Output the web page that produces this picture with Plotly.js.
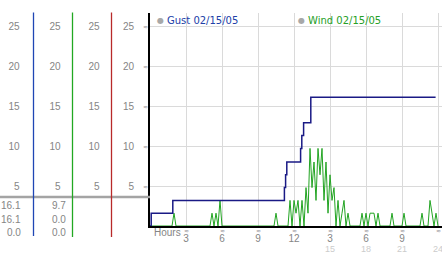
<!DOCTYPE html>
<html><head><meta charset="utf-8">
<script src="https://cdn.plot.ly/plotly-3.0.1.min.js"></script>
<style>html,body{margin:0;padding:0;background:#fff;overflow:hidden}#chart{width:442px;height:253px}</style>
</head><body><div id="chart"></div>
<script>
// ---- data ----
const gustHours  = [0, 0.1, 1.9, 11.2, 11.3, 11.4, 12.55, 12.65, 12.8, 13.4, 23.8];
const gustValues = [0, 1.6, 3.2, 4.8, 6.4, 8.0, 9.7, 11.3, 12.9, 16.1, 16.1];
const windStartHour = 0;
const windStepHours = 1 / 6;   // one reading every 10 minutes
const windValues = [
  0,0,0,0,0,0,0,0,0,0,
  0,0,1.6,0,0,0,0,0,0,0,
  0,0,0,0,0,0,0,0,0,0,
  0,1.6,0,1.6,0,3.2,0,0,0,0,
  0,0,0,0,0,0,0,0,0,0,
  0,0,0,0,0,0,0,0,0,0,
  0,0,0,1.6,0,0,0,0,0,0,
  3.2,0,3.2,1.6,3.2,0,3.2,0,4.8,1.6,
  9.7,4.8,8.0,3.2,9.7,6.4,9.7,3.2,8.0,1.6,
  6.4,3.2,4.8,0,3.2,0,1.6,3.2,0,1.6,
  0,0,0,0,0,0,1.6,0,1.6,0,
  1.6,1.6,1.6,0,1.6,0,0,0,0,0,
  0,1.6,0,0,0,0,0,1.6,0,0,
  0,0,0,0,0,0,1.6,0,0,0,
  3.2,1.6,0,1.6,0
];
const seriesNames = ['Gust 02/15/05', 'Wind 02/15/05'];
const yTickValues = [5, 10, 15, 20, 25];
const xTickValues = [3, 6, 9, 12, 15, 18, 21, 24];
const xTickLabels = ['3', '6', '9', '12', '3', '6', '9', '12'];
const xTick24Values = [15, 18, 21, 24];
const xTick24Labels = ['15', '18', '21', '24'];
const xAxisLabel = 'Hours';
const gustStats = [16.1, 16.1, 0.0];
const windStats = [9.7, 0.0, 0.0];

// ---- styles ----
const W = 442, H = 253;
const plotLeft = 150, plotTop = 13, plotBottom = 226;
const plotH = plotBottom - plotTop;
const yRange = [0, plotH / 8];
const xRange = [0, (W - plotLeft) / 12];
const gustColor = '#1a1a85', windColor = '#22a422';
const numFont = {family: 'Liberation Sans, Arial, sans-serif', size: 10, color: '#858585'};
const wordFont = {family: 'Liberation Sans, Arial, sans-serif', size: 10, color: '#858585'};
const py = p => (plotBottom - p) / plotH;   // pixel row -> paper y
const px = p => p / W;                      // pixel column -> paper x

const data = [
  {type: 'scatter', mode: 'lines', x0: windStartHour, dx: windStepHours, y: windValues,
   name: seriesNames[1], line: {color: windColor, width: 1}, hoverinfo: 'skip'},
  {type: 'scatter', mode: 'lines', x: gustHours, y: gustValues, name: seriesNames[0],
   line: {color: gustColor, width: 1.5, shape: 'hv'}, hoverinfo: 'skip'},
  {type: 'scatter', x: [], y: [], yaxis: 'y2', showlegend: false},
  {type: 'scatter', x: [], y: [], yaxis: 'y3', showlegend: false},
  {type: 'scatter', x: [], y: [], yaxis: 'y4', showlegend: false}
];

const sideAxis = (pos, standoff) => ({
  overlaying: 'y', anchor: 'free', position: px(pos), side: 'left',
  range: yRange, tickvals: yTickValues, showgrid: false, zeroline: false,
  showline: false, ticks: '', ticklabelstandoff: standoff, tickfont: numFont, fixedrange: true
});

const shapes = [
  {type: 'line', xref: 'paper', yref: 'paper', x0: 0, x1: px(plotLeft), y0: py(197), y1: py(197),
   line: {color: '#a4a4a4', width: 2.5}, layer: 'above'},
  {type: 'line', xref: 'paper', yref: 'paper', x0: px(33.5), x1: px(33.5), y0: py(236), y1: py(12.5),
   line: {color: '#1f46b4', width: 1.3}, layer: 'above'},
  {type: 'line', xref: 'paper', yref: 'paper', x0: px(72.5), x1: px(72.5), y0: py(237), y1: py(12.5),
   line: {color: '#22a822', width: 1.3}, layer: 'above'},
  {type: 'line', xref: 'paper', yref: 'paper', x0: px(111.5), x1: px(111.5), y0: py(237), y1: py(12.5),
   line: {color: '#b82a2a', width: 1.3}, layer: 'above'}
];

const annotations = [];
const markFont = {family: 'DejaVu Sans, sans-serif', size: 6, color: '#8c8c8c'};
xTickValues.forEach(v => annotations.push({xref: 'x', yref: 'paper', x: v, y: py(230),
  text: '≈', showarrow: false, font: markFont, xanchor: 'center', yanchor: 'middle', borderpad: 0}));
yTickValues.forEach(v => annotations.push({xref: 'paper', yref: 'y', x: px(145), y: v,
  text: '≈', showarrow: false, font: markFont, xanchor: 'center', yanchor: 'middle', borderpad: 0}));
xTick24Values.forEach((v, i) => annotations.push({xref: 'x', yref: 'paper', x: v, y: py(248.5),
  text: xTick24Labels[i], showarrow: false, font: {...numFont, size: 9, color: '#cccccc'},
  xanchor: 'center', yanchor: 'middle', borderpad: 0}));
annotations.push({xref: 'x', yref: 'paper', x: 0, xshift: 2, y: py(232), text: xAxisLabel,
  showarrow: false, font: wordFont, xanchor: 'left', yanchor: 'middle'});
const statRows = [205.5, 219, 232];
gustStats.forEach((v, i) => annotations.push({xref: 'paper', yref: 'paper', x: px(23), y: py(statRows[i]),
  text: v.toFixed(1), showarrow: false, font: numFont, xanchor: 'right', yanchor: 'middle'}));
windStats.forEach((v, i) => annotations.push({xref: 'paper', yref: 'paper', x: px(67.5), y: py(statRows[i]),
  text: v.toFixed(1), showarrow: false, font: numFont, xanchor: 'right', yanchor: 'middle'}));
// legend entries
const legendItems = [{x: 160.5, color: '#2040a8', name: seriesNames[0]}, {x: 301.5, color: '#26a026', name: seriesNames[1]}];
legendItems.forEach(it => {
  annotations.push({xref: 'paper', yref: 'paper', x: px(it.x), y: py(20.5), text: '●',
    showarrow: false, font: {family: 'DejaVu Sans, sans-serif', size: 8, color: '#a8a8a8'},
    xanchor: 'center', yanchor: 'middle'});
  annotations.push({xref: 'paper', yref: 'paper', x: px(it.x + 4), y: py(20.5), text: it.name,
    showarrow: false, font: {family: 'DejaVu Sans, sans-serif', size: 10, color: it.color},
    xanchor: 'left', yanchor: 'middle'});
});

const layout = {
  width: W, height: H,
  margin: {l: 0, r: 0, t: plotTop, b: H - plotBottom, pad: 0},
  paper_bgcolor: '#ffffff', plot_bgcolor: '#ffffff',
  showlegend: false,
  font: numFont,
  xaxis: {domain: [px(plotLeft), 1], range: xRange, tickvals: xTickValues, ticktext: xTickLabels,
    showgrid: true, gridcolor: '#dadada', gridwidth: 1, zeroline: false,
    showline: true, linecolor: '#000000', linewidth: 2, ticks: '', ticklabelstandoff: 2,
    tickfont: numFont, fixedrange: true},
  yaxis: {range: yRange, tickvals: yTickValues, showgrid: true, gridcolor: '#dadada', gridwidth: 1,
    zeroline: false, showline: true, linecolor: '#000000', linewidth: 2, ticks: '',
    ticklabelstandoff: 12, tickfont: numFont, fixedrange: true},
  yaxis2: sideAxis(33.5, 14),
  yaxis3: sideAxis(72.5, 12),
  yaxis4: sideAxis(111.5, 12),
  shapes: shapes,
  annotations: annotations
};

Plotly.newPlot('chart', data, layout, {staticPlot: true, displayModeBar: false});
</script>
</body></html>
